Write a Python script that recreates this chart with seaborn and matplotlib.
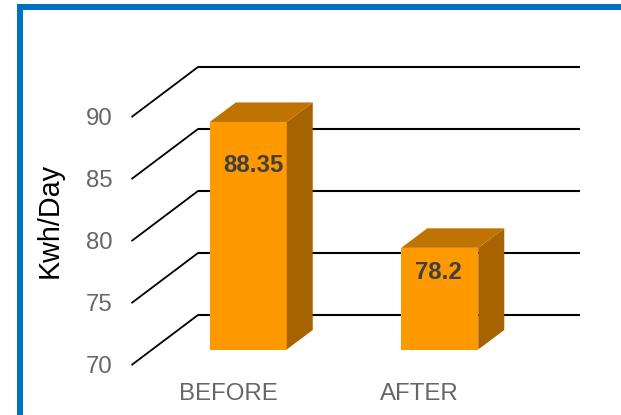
"""Before/after daily energy use, drawn as a fake-3D bar chart."""
import matplotlib
matplotlib.use('Agg')
import matplotlib.pyplot as plt
import pandas as pd
import seaborn as sns
from matplotlib.patches import Polygon, Rectangle
from matplotlib.transforms import ScaledTranslation

periods = ['BEFORE', 'AFTER']
kwh_per_day = [88.35, 78.2]
value_labels = ['88.35', '78.2']
y_ticks = [70, 75, 80, 85, 90]

W, H, DPI = 621, 415, 100
BLUE, FRONT, SIDE, TOP = '#0070C0', '#FF9900', '#A66300', '#BF7300'

# pixel geometry of the pseudo-3D box
AX_LEFT, AX_RIGHT, AX_BOTTOM, AX_TOP = 152.5, 535.5, 349.5, 101.5
PX_X = 2 / (AX_RIGHT - AX_LEFT)      # categories per pixel
PX_Y = 20 / (AX_BOTTOM - AX_TOP)     # kWh per pixel
BAR_DX, BAR_DY = 26, 19.5            # bar depth
WALL_X0, WALL_X1 = 198, 580          # back wall extent
WALL_DY = 34.5                       # back wall above the bar plane
FLOOR_X, FLOOR_DY = 132, -15.2       # front edge of the floor

LABEL_SHIFT = [(5, -44), (-1, -25)]  # value label vs. top of bar


def px_to_x(px):
    return -0.5 + (px - AX_LEFT) * PX_X


def px_offset(ax, dx, dy):
    return ScaledTranslation(dx / DPI, dy / DPI, ax.figure.dpi_scale_trans)


sns.set_theme(style='white')
plt.rcParams['font.family'] = ['Liberation Sans', 'DejaVu Sans']

fig = plt.figure(figsize=(W / DPI, H / DPI), dpi=DPI)
ax = fig.add_axes([AX_LEFT / W, 1 - AX_BOTTOM / H,
                   (AX_RIGHT - AX_LEFT) / W, (AX_BOTTOM - AX_TOP) / H])
ax.patch.set_visible(False)

df = pd.DataFrame({'period': periods, 'kwh': kwh_per_day})
sns.barplot(data=df, x='period', y='kwh', order=periods, color=FRONT,
            saturation=1, width=77 * PX_X, linewidth=0, zorder=3, ax=ax)
ax.set_xlim(-0.5, 1.5)
ax.set_ylim(y_ticks[0], y_ticks[-1])
sns.despine(ax=ax, left=True, bottom=True)

# wall gridlines and the oblique floor/side strokes
for v in y_ticks:
    back = v + WALL_DY * PX_Y
    ax.plot([px_to_x(WALL_X0), px_to_x(WALL_X1)], [back, back],
            color='black', lw=1.5, clip_on=False, zorder=1,
            solid_capstyle='butt')
    ax.plot([px_to_x(FLOOR_X), px_to_x(WALL_X0)], [v + FLOOR_DY * PX_Y, back],
            color='black', lw=1.3, clip_on=False, zorder=1)

# extrude each bar
ddx, ddy = BAR_DX * PX_X, BAR_DY * PX_Y
base = y_ticks[0]
for bar, val, text, (sx, sy) in zip(ax.patches, kwh_per_day, value_labels, LABEL_SHIFT):
    x0, x1 = bar.get_x(), bar.get_x() + bar.get_width()
    ax.add_patch(Polygon([(x1, base), (x1 + ddx, base + ddy),
                          (x1 + ddx, val + ddy), (x1, val)],
                         color=SIDE, lw=0, clip_on=False, zorder=3))
    ax.add_patch(Polygon([(x0, val), (x0 + ddx, val + ddy),
                          (x1 + ddx, val + ddy), (x1, val)],
                         color=TOP, lw=0, clip_on=False, zorder=3))
    ax.text((x0 + x1) / 2 + sx * PX_X, val + sy * PX_Y, text, ha='center',
            va='center', fontsize=17.3, fontweight='bold', color='#404040',
            zorder=4)

ax.set_yticks(y_ticks)
ax.set_yticklabels([str(v) for v in y_ticks])
ax.tick_params(axis='y', length=0, pad=29, labelsize=17.3, labelcolor='#666666')
ax.tick_params(axis='x', length=0, pad=24, labelsize=17.3, labelcolor='#666666')
for lab in ax.get_yticklabels():
    lab.set_transform(lab.get_transform() + px_offset(ax, 0, FLOOR_DY))
for lab in ax.get_xticklabels():
    lab.set_transform(lab.get_transform() + px_offset(ax, -20, 0))

ax.set_xlabel('')
ax.set_ylabel('Kwh/Day', fontsize=20.7, color='black', va='center')
ax.yaxis.set_label_coords((50 - AX_LEFT) / (AX_RIGHT - AX_LEFT),
                          (AX_BOTTOM - 221) / (AX_BOTTOM - AX_TOP))

# blue frame, cut by the image edge
frame = [(17.3, 4, W - 17.3, 6), (17.3, 4, 6, H - 4)]
for x, y, w, h in frame:
    fig.add_artist(Rectangle((x / W, 1 - (y + h) / H), w / W, h / H,
                             transform=fig.transFigure, color=BLUE, lw=0))

fig.savefig('out.png', dpi=DPI)
